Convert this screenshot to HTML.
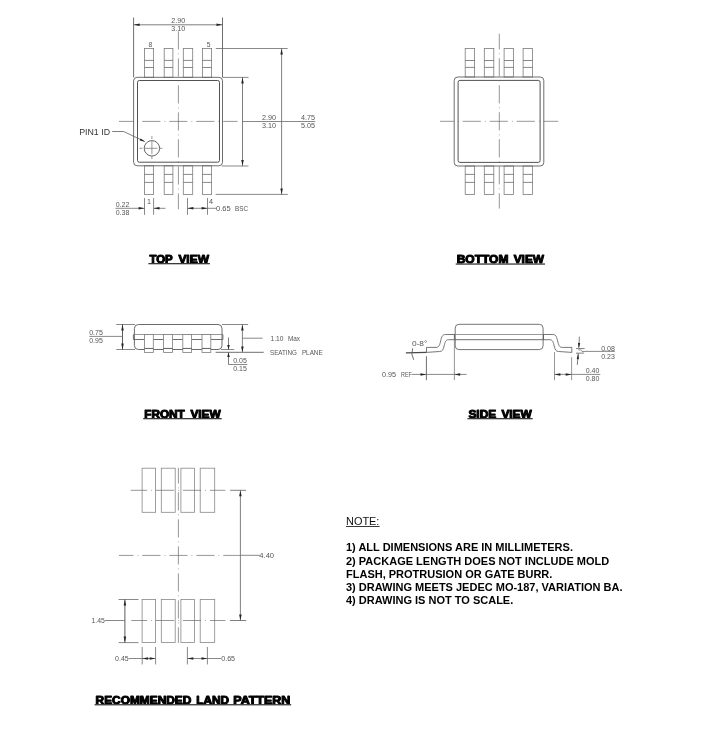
<!DOCTYPE html>
<html lang="en">
<head>
<meta charset="utf-8">
<title>MSOP-8 Package Outline</title>
<style>
html, body { margin: 0; padding: 0; background: #fff; }
body { width: 702px; height: 737px; overflow: hidden; font-family: "Liberation Sans", sans-serif; }
svg { display: block; will-change: transform; transform: translateZ(0); }
svg text { font-family: "Liberation Sans", sans-serif; white-space: pre; }
</style>
</head>
<body>
<svg width="702" height="737" viewBox="0 0 702 737">
<rect x="0" y="0" width="702" height="737" fill="#fff"/>
<rect x="144.5" y="48.5" width="9.1" height="28.8" rx="0" ry="0" fill="none" stroke="#7c7c7c" stroke-width="0.8"/>
<line x1="144.5" y1="60.4" x2="153.6" y2="60.4" stroke="#6a6a6a" stroke-width="0.8" />
<line x1="144.5" y1="67.5" x2="153.6" y2="67.5" stroke="#6a6a6a" stroke-width="0.8" />
<rect x="164.2" y="48.5" width="8.7" height="28.8" rx="0" ry="0" fill="none" stroke="#7c7c7c" stroke-width="0.8"/>
<line x1="164.2" y1="60.4" x2="172.9" y2="60.4" stroke="#6a6a6a" stroke-width="0.8" />
<line x1="164.2" y1="67.5" x2="172.9" y2="67.5" stroke="#6a6a6a" stroke-width="0.8" />
<rect x="183.3" y="48.5" width="9.4" height="28.8" rx="0" ry="0" fill="none" stroke="#7c7c7c" stroke-width="0.8"/>
<line x1="183.3" y1="60.4" x2="192.7" y2="60.4" stroke="#6a6a6a" stroke-width="0.8" />
<line x1="183.3" y1="67.5" x2="192.7" y2="67.5" stroke="#6a6a6a" stroke-width="0.8" />
<rect x="202.5" y="48.5" width="9.1" height="28.8" rx="0" ry="0" fill="none" stroke="#7c7c7c" stroke-width="0.8"/>
<line x1="202.5" y1="60.4" x2="211.6" y2="60.4" stroke="#6a6a6a" stroke-width="0.8" />
<line x1="202.5" y1="67.5" x2="211.6" y2="67.5" stroke="#6a6a6a" stroke-width="0.8" />
<rect x="144.5" y="165.8" width="9.1" height="28.6" rx="0" ry="0" fill="none" stroke="#7c7c7c" stroke-width="0.8"/>
<line x1="144.5" y1="174.4" x2="153.6" y2="174.4" stroke="#6a6a6a" stroke-width="0.8" />
<line x1="144.5" y1="182.4" x2="153.6" y2="182.4" stroke="#6a6a6a" stroke-width="0.8" />
<rect x="164.2" y="165.8" width="8.7" height="28.6" rx="0" ry="0" fill="none" stroke="#7c7c7c" stroke-width="0.8"/>
<line x1="164.2" y1="174.4" x2="172.9" y2="174.4" stroke="#6a6a6a" stroke-width="0.8" />
<line x1="164.2" y1="182.4" x2="172.9" y2="182.4" stroke="#6a6a6a" stroke-width="0.8" />
<rect x="183.3" y="165.8" width="9.4" height="28.6" rx="0" ry="0" fill="none" stroke="#7c7c7c" stroke-width="0.8"/>
<line x1="183.3" y1="174.4" x2="192.7" y2="174.4" stroke="#6a6a6a" stroke-width="0.8" />
<line x1="183.3" y1="182.4" x2="192.7" y2="182.4" stroke="#6a6a6a" stroke-width="0.8" />
<rect x="202.5" y="165.8" width="9.1" height="28.6" rx="0" ry="0" fill="none" stroke="#7c7c7c" stroke-width="0.8"/>
<line x1="202.5" y1="174.4" x2="211.6" y2="174.4" stroke="#6a6a6a" stroke-width="0.8" />
<line x1="202.5" y1="182.4" x2="211.6" y2="182.4" stroke="#6a6a6a" stroke-width="0.8" />
<rect x="133.6" y="77.3" width="88.9" height="88.5" rx="3.6" ry="3.6" fill="none" stroke="#5e5e5e" stroke-width="0.9"/>
<rect x="137.5" y="80.5" width="82.0" height="81.7" rx="1.8" ry="1.8" fill="none" stroke="#525252" stroke-width="1.0"/>
<line x1="119" y1="121.4" x2="237.6" y2="121.4" stroke="#6a6a6a" stroke-width="0.7" stroke-dasharray="18.2 4 0.8 4" stroke-dashoffset="3.80"/>
<line x1="178.4" y1="30" x2="178.4" y2="209.3" stroke="#6a6a6a" stroke-width="0.7" stroke-dasharray="18.2 4 0.8 4" stroke-dashoffset="25.70"/>
<line x1="133.6" y1="17.5" x2="133.6" y2="77.3" stroke="#5e5e5e" stroke-width="0.9" />
<line x1="222.5" y1="17.5" x2="222.5" y2="77.3" stroke="#5e5e5e" stroke-width="0.9" />
<line x1="133.6" y1="24.8" x2="222.5" y2="24.8" stroke="#5e5e5e" stroke-width="0.8" />
<polygon points="133.80,24.80 139.60,23.55 139.60,26.05" fill="#222"/>
<polygon points="222.30,24.80 216.50,26.05 216.50,23.55" fill="#222"/>
<text x="178.2" y="20.9" font-size="7.2" text-anchor="middle" dominant-baseline="central" fill="#555">2.90</text>
<text x="178.2" y="28.9" font-size="7.2" text-anchor="middle" dominant-baseline="central" fill="#555">3.10</text>
<text x="150.4" y="44.4" font-size="6.7" text-anchor="middle" dominant-baseline="central" fill="#555">8</text>
<text x="208.6" y="44.4" font-size="6.7" text-anchor="middle" dominant-baseline="central" fill="#555">5</text>
<line x1="215.8" y1="48.5" x2="287.6" y2="48.5" stroke="#6a6a6a" stroke-width="0.8" />
<line x1="222.5" y1="77.4" x2="248.5" y2="77.4" stroke="#6a6a6a" stroke-width="0.8" />
<line x1="221.8" y1="166.0" x2="248.5" y2="166.0" stroke="#6a6a6a" stroke-width="0.8" />
<line x1="215.6" y1="194.4" x2="287.8" y2="194.4" stroke="#6a6a6a" stroke-width="0.8" />
<line x1="242.5" y1="77.4" x2="242.5" y2="166.0" stroke="#5e5e5e" stroke-width="0.8" />
<polygon points="242.50,77.60 243.75,83.40 241.25,83.40" fill="#222"/>
<polygon points="242.50,165.80 241.25,160.00 243.75,160.00" fill="#222"/>
<line x1="281.6" y1="48.5" x2="281.6" y2="194.4" stroke="#5e5e5e" stroke-width="0.8" />
<polygon points="281.60,48.70 282.85,54.50 280.35,54.50" fill="#222"/>
<polygon points="281.60,194.20 280.35,188.40 282.85,188.40" fill="#222"/>
<line x1="242.5" y1="121.5" x2="315.2" y2="121.5" stroke="#6a6a6a" stroke-width="0.8" />
<text x="268.9" y="117.6" font-size="7.2" text-anchor="middle" dominant-baseline="central" fill="#555">2.90</text>
<text x="268.9" y="125.6" font-size="7.2" text-anchor="middle" dominant-baseline="central" fill="#555">3.10</text>
<text x="308.0" y="117.6" font-size="7.2" text-anchor="middle" dominant-baseline="central" fill="#555">4.75</text>
<text x="308.0" y="125.6" font-size="7.2" text-anchor="middle" dominant-baseline="central" fill="#555">5.05</text>
<text x="79.2" y="134.9" font-size="9.1" fill="#333" textLength="30.8" lengthAdjust="spacingAndGlyphs">PIN1 ID</text>
<path d="M112.2 131.5 H123.7 L144.6 141.5" fill="none" stroke="#5e5e5e" stroke-width="0.8"/>
<polygon points="145.20,141.80 139.76,140.42 140.72,138.43" fill="#222"/>
<circle cx="151.9" cy="148.3" r="7.7" fill="none" stroke="#525252" stroke-width="0.9"/>
<line x1="139.4" y1="148.3" x2="164.4" y2="148.3" stroke="#6a6a6a" stroke-width="0.7" stroke-dasharray="3 2 13 2 3"/>
<line x1="151.9" y1="136.1" x2="151.9" y2="160.3" stroke="#6a6a6a" stroke-width="0.7" stroke-dasharray="3 2 13 2 3"/>
<line x1="144.5" y1="198.0" x2="144.5" y2="214.8" stroke="#6a6a6a" stroke-width="0.8" />
<line x1="153.6" y1="198.0" x2="153.6" y2="214.8" stroke="#6a6a6a" stroke-width="0.8" />
<line x1="115.4" y1="208.3" x2="144.5" y2="208.3" stroke="#6a6a6a" stroke-width="0.8" />
<line x1="153.6" y1="208.3" x2="165.5" y2="208.3" stroke="#6a6a6a" stroke-width="0.8" />
<polygon points="144.40,208.30 138.60,209.55 138.60,207.05" fill="#222"/>
<polygon points="153.70,208.30 159.50,207.05 159.50,209.55" fill="#222"/>
<text x="122.5" y="204.6" font-size="7.0" text-anchor="middle" dominant-baseline="central" fill="#555">0.22</text>
<text x="122.5" y="212.5" font-size="7.0" text-anchor="middle" dominant-baseline="central" fill="#555">0.38</text>
<text x="149.0" y="201.3" font-size="7.2" text-anchor="middle" dominant-baseline="central" fill="#555">1</text>
<line x1="187.5" y1="198.0" x2="187.5" y2="214.8" stroke="#6a6a6a" stroke-width="0.8" />
<line x1="207.5" y1="198.0" x2="207.5" y2="214.8" stroke="#6a6a6a" stroke-width="0.8" />
<line x1="187.5" y1="208.3" x2="216.5" y2="208.3" stroke="#6a6a6a" stroke-width="0.8" />
<polygon points="187.60,208.30 193.40,207.05 193.40,209.55" fill="#222"/>
<polygon points="207.40,208.30 201.60,209.55 201.60,207.05" fill="#222"/>
<text x="211.0" y="201.0" font-size="7.2" text-anchor="middle" dominant-baseline="central" fill="#555">4</text>
<text x="216.1" y="208.4" font-size="7.2" text-anchor="start" dominant-baseline="central" fill="#555" textLength="14.6" lengthAdjust="spacingAndGlyphs">0.65</text>
<text x="235.0" y="208.4" font-size="7.2" text-anchor="start" dominant-baseline="central" fill="#555" textLength="13.0" lengthAdjust="spacingAndGlyphs">BSC</text>
<text x="149.4" y="262.5" font-size="10.3" font-weight="bold" fill="#000" stroke="#000" stroke-width="0.95" stroke-linejoin="round" textLength="23.3" lengthAdjust="spacingAndGlyphs">TOP</text>
<text x="178.4" y="262.5" font-size="10.3" font-weight="bold" fill="#000" stroke="#000" stroke-width="0.95" stroke-linejoin="round" textLength="30.6" lengthAdjust="spacingAndGlyphs">VIEW</text>
<rect x="148.39999999999998" y="263.0" width="61.5" height="1.3" fill="#3a3a3a"/>
<rect x="465.2" y="48.5" width="9.4" height="28.5" rx="0" ry="0" fill="none" stroke="#7c7c7c" stroke-width="0.8"/>
<line x1="465.2" y1="60.5" x2="474.6" y2="60.5" stroke="#6a6a6a" stroke-width="0.8" />
<line x1="465.2" y1="67.4" x2="474.6" y2="67.4" stroke="#6a6a6a" stroke-width="0.8" />
<rect x="484.3" y="48.5" width="9.5" height="28.5" rx="0" ry="0" fill="none" stroke="#7c7c7c" stroke-width="0.8"/>
<line x1="484.3" y1="60.5" x2="493.8" y2="60.5" stroke="#6a6a6a" stroke-width="0.8" />
<line x1="484.3" y1="67.4" x2="493.8" y2="67.4" stroke="#6a6a6a" stroke-width="0.8" />
<rect x="504.1" y="48.5" width="9.5" height="28.5" rx="0" ry="0" fill="none" stroke="#7c7c7c" stroke-width="0.8"/>
<line x1="504.1" y1="60.5" x2="513.6" y2="60.5" stroke="#6a6a6a" stroke-width="0.8" />
<line x1="504.1" y1="67.4" x2="513.6" y2="67.4" stroke="#6a6a6a" stroke-width="0.8" />
<rect x="523.1" y="48.5" width="9.5" height="28.5" rx="0" ry="0" fill="none" stroke="#7c7c7c" stroke-width="0.8"/>
<line x1="523.1" y1="60.5" x2="532.6" y2="60.5" stroke="#6a6a6a" stroke-width="0.8" />
<line x1="523.1" y1="67.4" x2="532.6" y2="67.4" stroke="#6a6a6a" stroke-width="0.8" />
<rect x="465.2" y="166.0" width="9.4" height="28.5" rx="0" ry="0" fill="none" stroke="#7c7c7c" stroke-width="0.8"/>
<line x1="465.2" y1="174.4" x2="474.6" y2="174.4" stroke="#6a6a6a" stroke-width="0.8" />
<line x1="465.2" y1="182.4" x2="474.6" y2="182.4" stroke="#6a6a6a" stroke-width="0.8" />
<rect x="484.3" y="166.0" width="9.5" height="28.5" rx="0" ry="0" fill="none" stroke="#7c7c7c" stroke-width="0.8"/>
<line x1="484.3" y1="174.4" x2="493.8" y2="174.4" stroke="#6a6a6a" stroke-width="0.8" />
<line x1="484.3" y1="182.4" x2="493.8" y2="182.4" stroke="#6a6a6a" stroke-width="0.8" />
<rect x="504.1" y="166.0" width="9.5" height="28.5" rx="0" ry="0" fill="none" stroke="#7c7c7c" stroke-width="0.8"/>
<line x1="504.1" y1="174.4" x2="513.6" y2="174.4" stroke="#6a6a6a" stroke-width="0.8" />
<line x1="504.1" y1="182.4" x2="513.6" y2="182.4" stroke="#6a6a6a" stroke-width="0.8" />
<rect x="523.1" y="166.0" width="9.5" height="28.5" rx="0" ry="0" fill="none" stroke="#7c7c7c" stroke-width="0.8"/>
<line x1="523.1" y1="174.4" x2="532.6" y2="174.4" stroke="#6a6a6a" stroke-width="0.8" />
<line x1="523.1" y1="182.4" x2="532.6" y2="182.4" stroke="#6a6a6a" stroke-width="0.8" />
<rect x="454.2" y="77.0" width="89.6" height="89.0" rx="3.6" ry="3.6" fill="none" stroke="#5e5e5e" stroke-width="0.9"/>
<rect x="458.1" y="80.4" width="82.0" height="82.0" rx="1.8" ry="1.8" fill="none" stroke="#525252" stroke-width="1.0"/>
<line x1="440.0" y1="121.3" x2="558.3" y2="121.3" stroke="#6a6a6a" stroke-width="0.7" stroke-dasharray="18.2 4 0.8 4" stroke-dashoffset="4.30"/>
<line x1="499.3" y1="33.7" x2="499.3" y2="208.6" stroke="#6a6a6a" stroke-width="0.7" stroke-dasharray="18.2 4 0.8 4" stroke-dashoffset="2.50"/>
<text x="456.7" y="262.5" font-size="10.3" font-weight="bold" fill="#000" stroke="#000" stroke-width="0.95" stroke-linejoin="round" textLength="51.7" lengthAdjust="spacingAndGlyphs">BOTTOM</text>
<text x="513.7" y="262.5" font-size="10.3" font-weight="bold" fill="#000" stroke="#000" stroke-width="0.95" stroke-linejoin="round" textLength="30.4" lengthAdjust="spacingAndGlyphs">VIEW</text>
<rect x="455.7" y="263.4" width="89.3" height="1.3" fill="#3a3a3a"/>
<path d="M138.4 324.5 H218 A4 4 0 0 1 222 328.5 V345.5 A4 4 0 0 1 218 349.5 H138.4 A4 4 0 0 1 134.4 345.5 V328.5 A4 4 0 0 1 138.4 324.5 Z" fill="none" stroke="#5a5a5a" stroke-width="0.9"/>
<line x1="133.4" y1="334.5" x2="222.9" y2="334.5" stroke="#7c7c7c" stroke-width="0.8" />
<line x1="133.4" y1="334.5" x2="133.4" y2="339.5" stroke="#5e5e5e" stroke-width="0.9" />
<line x1="222.9" y1="334.5" x2="222.9" y2="339.5" stroke="#5e5e5e" stroke-width="0.9" />
<line x1="133.4" y1="339.5" x2="144.5" y2="339.5" stroke="#5e5e5e" stroke-width="0.9" />
<line x1="153.3" y1="339.5" x2="163.6" y2="339.5" stroke="#5e5e5e" stroke-width="0.9" />
<line x1="172.4" y1="339.5" x2="182.8" y2="339.5" stroke="#5e5e5e" stroke-width="0.9" />
<line x1="191.6" y1="339.5" x2="202.0" y2="339.5" stroke="#5e5e5e" stroke-width="0.9" />
<line x1="210.8" y1="339.5" x2="222.9" y2="339.5" stroke="#5e5e5e" stroke-width="0.9" />
<rect x="144.5" y="334.5" width="8.8" height="17.9" fill="#fff" stroke="#7c7c7c" stroke-width="0.8"/>
<line x1="144.5" y1="348.45" x2="153.3" y2="348.45" stroke="#505050" stroke-width="0.9" />
<rect x="163.6" y="334.5" width="8.8" height="17.9" fill="#fff" stroke="#7c7c7c" stroke-width="0.8"/>
<line x1="163.6" y1="348.45" x2="172.4" y2="348.45" stroke="#505050" stroke-width="0.9" />
<rect x="182.8" y="334.5" width="8.8" height="17.9" fill="#fff" stroke="#7c7c7c" stroke-width="0.8"/>
<line x1="182.8" y1="348.45" x2="191.6" y2="348.45" stroke="#505050" stroke-width="0.9" />
<rect x="202.0" y="334.5" width="8.8" height="17.9" fill="#fff" stroke="#7c7c7c" stroke-width="0.8"/>
<line x1="202.0" y1="348.45" x2="210.8" y2="348.45" stroke="#505050" stroke-width="0.9" />
<line x1="116.3" y1="324.5" x2="135.0" y2="324.5" stroke="#6a6a6a" stroke-width="0.8" />
<line x1="116.3" y1="349.5" x2="135.0" y2="349.5" stroke="#6a6a6a" stroke-width="0.8" />
<line x1="122.5" y1="324.5" x2="122.5" y2="349.5" stroke="#484848" stroke-width="0.9" />
<polygon points="122.50,324.60 123.75,330.40 121.25,330.40" fill="#222"/>
<polygon points="122.50,349.40 121.25,343.60 123.75,343.60" fill="#222"/>
<line x1="89.3" y1="336.4" x2="122.5" y2="336.4" stroke="#6a6a6a" stroke-width="0.8" />
<text x="96.0" y="332.9" font-size="7.0" text-anchor="middle" dominant-baseline="central" fill="#555">0.75</text>
<text x="96.0" y="340.6" font-size="7.0" text-anchor="middle" dominant-baseline="central" fill="#555">0.95</text>
<line x1="222.0" y1="324.5" x2="248.1" y2="324.5" stroke="#6a6a6a" stroke-width="0.8" />
<line x1="242.4" y1="324.5" x2="242.4" y2="352.4" stroke="#5e5e5e" stroke-width="0.8" />
<polygon points="242.40,324.70 243.65,330.50 241.15,330.50" fill="#222"/>
<polygon points="242.40,352.20 241.15,346.40 243.65,346.40" fill="#222"/>
<line x1="215.6" y1="352.3" x2="263.7" y2="352.3" stroke="#5e5e5e" stroke-width="0.9" />
<line x1="221.0" y1="349.5" x2="234.2" y2="349.5" stroke="#6a6a6a" stroke-width="0.8" />
<line x1="228.5" y1="337.4" x2="228.5" y2="349.5" stroke="#5e5e5e" stroke-width="0.8" />
<line x1="228.5" y1="352.3" x2="228.5" y2="364.5" stroke="#5e5e5e" stroke-width="0.8" />
<polygon points="228.50,349.40 227.25,344.90 229.75,344.90" fill="#222"/>
<polygon points="228.50,352.40 229.75,356.90 227.25,356.90" fill="#222"/>
<line x1="228.5" y1="364.5" x2="247.3" y2="364.5" stroke="#6a6a6a" stroke-width="0.8" />
<text x="240.0" y="360.7" font-size="7.0" text-anchor="middle" dominant-baseline="central" fill="#555">0.05</text>
<text x="240.0" y="368.2" font-size="7.0" text-anchor="middle" dominant-baseline="central" fill="#555">0.15</text>
<line x1="242.4" y1="338.2" x2="262.6" y2="338.2" stroke="#6a6a6a" stroke-width="0.8" />
<text x="270.5" y="338.3" font-size="7.2" text-anchor="start" dominant-baseline="central" fill="#555" textLength="12.9" lengthAdjust="spacingAndGlyphs">1.10</text>
<text x="287.9" y="338.3" font-size="7.2" text-anchor="start" dominant-baseline="central" fill="#555" textLength="12.2" lengthAdjust="spacingAndGlyphs">Max</text>
<text x="270.0" y="352.4" font-size="7.4" text-anchor="start" dominant-baseline="central" fill="#555" textLength="27.0" lengthAdjust="spacingAndGlyphs">SEATING</text>
<text x="301.9" y="352.4" font-size="7.4" text-anchor="start" dominant-baseline="central" fill="#555" textLength="20.8" lengthAdjust="spacingAndGlyphs">PLANE</text>
<text x="144.2" y="417.5" font-size="10.3" font-weight="bold" fill="#000" stroke="#000" stroke-width="0.95" stroke-linejoin="round" textLength="40.6" lengthAdjust="spacingAndGlyphs">FRONT</text>
<text x="190.4" y="417.5" font-size="10.3" font-weight="bold" fill="#000" stroke="#000" stroke-width="0.95" stroke-linejoin="round" textLength="30.4" lengthAdjust="spacingAndGlyphs">VIEW</text>
<rect x="143.2" y="418.0" width="78.5" height="1.3" fill="#3a3a3a"/>
<rect x="455.2" y="324.3" width="87.9" height="25.3" rx="3.8" ry="3.8" fill="none" stroke="#5c5c5c" stroke-width="0.85"/>
<line x1="454.4" y1="334.5" x2="543.5" y2="334.5" stroke="#808080" stroke-width="0.8" />
<line x1="454.4" y1="339.7" x2="543.5" y2="339.7" stroke="#5e5e5e" stroke-width="0.9" />
<line x1="543.5" y1="334.5" x2="543.5" y2="339.7" stroke="#555" stroke-width="0.9" />
<line x1="454.4" y1="334.5" x2="454.4" y2="339.7" stroke="#555" stroke-width="0.9" />
<path d="M455.2 334.5 H445.5 C442.1 334.5 441.5 337.5 440.7 340.9 C439.7 344.8 439.1 347.4 436.1 347.4 H426.5 V352.5" fill="none" stroke="#5e5e5e" stroke-width="0.85"/>
<path d="M455.2 339.7 H448.5 C445.5 339.7 444.9 342.6 444.1 346.1 C443.2 349.6 442.4 351.5 439.7 351.5 L426.5 352.4" fill="none" stroke="#5e5e5e" stroke-width="0.85"/>
<path d="M543.1 334.5 H552.8 C556.2 334.5 556.8 337.5 557.6 340.9 C558.6 344.8 559.2 347.4 562.2 347.4 H571.8 V352.5" fill="none" stroke="#5e5e5e" stroke-width="0.85"/>
<path d="M543.1 339.7 H549.8 C552.8 339.7 553.4 342.6 554.2 346.1 C555.1 349.6 555.9 351.5 558.6 351.5 L571.8 352.4" fill="none" stroke="#5e5e5e" stroke-width="0.85"/>
<line x1="405.9" y1="352.9" x2="426.4" y2="352.4" stroke="#484848" stroke-width="1.2" />
<path d="M412.6 348.3 Q410.6 354.5 413.7 359.8" fill="none" stroke="#5e5e5e" stroke-width="0.9"/>
<text x="411.9" y="343.0" font-size="6.8" text-anchor="start" dominant-baseline="central" fill="#555" textLength="15.4" lengthAdjust="spacingAndGlyphs">0-8°</text>
<line x1="426.4" y1="356.2" x2="426.4" y2="380.2" stroke="#5e5e5e" stroke-width="0.9" />
<line x1="454.4" y1="339.7" x2="454.4" y2="380.2" stroke="#7c7c7c" stroke-width="0.8" />
<line x1="411.9" y1="374.4" x2="466.6" y2="374.4" stroke="#6a6a6a" stroke-width="0.8" />
<polygon points="426.30,374.40 420.50,375.65 420.50,373.15" fill="#222"/>
<polygon points="454.40,374.40 460.20,373.15 460.20,375.65" fill="#222"/>
<text x="382.0" y="374.5" font-size="7.2" text-anchor="start" dominant-baseline="central" fill="#555" textLength="14.0" lengthAdjust="spacingAndGlyphs">0.95</text>
<text x="401.1" y="374.5" font-size="7.2" text-anchor="start" dominant-baseline="central" fill="#555" textLength="10.8" lengthAdjust="spacingAndGlyphs">REF</text>
<line x1="554.5" y1="352.0" x2="554.5" y2="380.2" stroke="#7c7c7c" stroke-width="0.8" />
<line x1="571.6" y1="357.2" x2="571.6" y2="380.2" stroke="#7c7c7c" stroke-width="0.8" />
<line x1="554.5" y1="374.4" x2="600.3" y2="374.4" stroke="#6a6a6a" stroke-width="0.8" />
<polygon points="554.60,374.40 560.40,373.15 560.40,375.65" fill="#222"/>
<polygon points="571.50,374.40 565.70,375.65 565.70,373.15" fill="#222"/>
<text x="592.6" y="370.7" font-size="7.0" text-anchor="middle" dominant-baseline="central" fill="#555">0.40</text>
<text x="592.6" y="378.4" font-size="7.0" text-anchor="middle" dominant-baseline="central" fill="#555">0.80</text>
<line x1="579.4" y1="336.7" x2="578.9" y2="347.6" stroke="#5e5e5e" stroke-width="0.8" />
<line x1="578.2" y1="353.4" x2="577.3" y2="364.9" stroke="#5e5e5e" stroke-width="0.8" />
<polygon points="578.80,348.20 577.96,342.95 580.16,343.06" fill="#222"/>
<polygon points="578.20,353.50 578.91,359.16 576.71,359.01" fill="#222"/>
<line x1="576.0" y1="348.6" x2="584.6" y2="348.5" stroke="#5e5e5e" stroke-width="0.8" />
<line x1="576.0" y1="353.2" x2="584.1" y2="353.1" stroke="#5e5e5e" stroke-width="0.8" />
<path d="M578.4 349.9 H580.6 Q581.6 350.2 582.0 351.4 H614.9" fill="none" stroke="#6a6a6a" stroke-width="0.8"/>
<text x="608.0" y="348.4" font-size="7.0" text-anchor="middle" dominant-baseline="central" fill="#555">0.08</text>
<text x="608.0" y="356.3" font-size="7.0" text-anchor="middle" dominant-baseline="central" fill="#555">0.23</text>
<text x="468.4" y="417.5" font-size="10.3" font-weight="bold" fill="#000" stroke="#000" stroke-width="0.95" stroke-linejoin="round" textLength="27.9" lengthAdjust="spacingAndGlyphs">SIDE</text>
<text x="501.4" y="417.5" font-size="10.3" font-weight="bold" fill="#000" stroke="#000" stroke-width="0.95" stroke-linejoin="round" textLength="30.4" lengthAdjust="spacingAndGlyphs">VIEW</text>
<rect x="467.4" y="418.0" width="65.3" height="1.3" fill="#3a3a3a"/>
<rect x="142.1" y="468.2" width="13.5" height="44.1" rx="0" ry="0" fill="none" stroke="#888" stroke-width="0.8"/>
<rect x="142.1" y="599.5" width="13.5" height="43.1" rx="0" ry="0" fill="none" stroke="#888" stroke-width="0.8"/>
<rect x="161.3" y="468.2" width="13.9" height="44.1" rx="0" ry="0" fill="none" stroke="#888" stroke-width="0.8"/>
<rect x="161.3" y="599.5" width="13.9" height="43.1" rx="0" ry="0" fill="none" stroke="#888" stroke-width="0.8"/>
<rect x="180.9" y="468.2" width="13.5" height="44.1" rx="0" ry="0" fill="none" stroke="#888" stroke-width="0.8"/>
<rect x="180.9" y="599.5" width="13.5" height="43.1" rx="0" ry="0" fill="none" stroke="#888" stroke-width="0.8"/>
<rect x="200.2" y="468.2" width="14.5" height="44.1" rx="0" ry="0" fill="none" stroke="#888" stroke-width="0.8"/>
<rect x="200.2" y="599.5" width="14.5" height="43.1" rx="0" ry="0" fill="none" stroke="#888" stroke-width="0.8"/>
<line x1="130.7" y1="490.3" x2="225.4" y2="490.3" stroke="#6a6a6a" stroke-width="0.7" stroke-dasharray="18.2 4 0.8 4" stroke-dashoffset="1.80"/>
<line x1="131.3" y1="620.5" x2="225.4" y2="620.5" stroke="#6a6a6a" stroke-width="0.7" stroke-dasharray="18.2 4 0.8 4" stroke-dashoffset="2.40"/>
<line x1="119.0" y1="555.4" x2="240.4" y2="555.4" stroke="#6a6a6a" stroke-width="0.7" stroke-dasharray="18.2 4 0.8 4" stroke-dashoffset="3.70"/>
<line x1="178.4" y1="467.8" x2="178.4" y2="643.0" stroke="#6a6a6a" stroke-width="0.7" stroke-dasharray="18.2 4 0.8 4" stroke-dashoffset="2.50"/>
<line x1="230.1" y1="490.3" x2="246.1" y2="490.3" stroke="#5e5e5e" stroke-width="0.8" />
<line x1="230.1" y1="620.5" x2="246.2" y2="620.5" stroke="#5e5e5e" stroke-width="0.8" />
<line x1="240.4" y1="490.3" x2="240.4" y2="620.5" stroke="#5e5e5e" stroke-width="0.8" />
<polygon points="240.40,490.50 241.65,496.30 239.15,496.30" fill="#222"/>
<polygon points="240.40,620.30 239.15,614.50 241.65,614.50" fill="#222"/>
<line x1="240.4" y1="555.3" x2="259.8" y2="555.3" stroke="#6a6a6a" stroke-width="0.8" />
<text x="259.3" y="555.6" font-size="7.0" text-anchor="start" dominant-baseline="central" fill="#555" textLength="14.8" lengthAdjust="spacingAndGlyphs">4.40</text>
<line x1="118.5" y1="599.5" x2="138.5" y2="599.5" stroke="#6a6a6a" stroke-width="0.8" />
<line x1="118.5" y1="642.6" x2="138.5" y2="642.6" stroke="#6a6a6a" stroke-width="0.8" />
<line x1="124.9" y1="599.5" x2="124.9" y2="642.6" stroke="#484848" stroke-width="0.9" />
<polygon points="124.90,599.70 126.15,605.50 123.65,605.50" fill="#222"/>
<polygon points="124.90,642.40 123.65,636.60 126.15,636.60" fill="#222"/>
<line x1="104.9" y1="620.5" x2="124.9" y2="620.5" stroke="#6a6a6a" stroke-width="0.8" />
<text x="91.5" y="620.6" font-size="7.0" text-anchor="start" dominant-baseline="central" fill="#555" textLength="13.4" lengthAdjust="spacingAndGlyphs">1.45</text>
<line x1="142.2" y1="647.0" x2="142.2" y2="664.4" stroke="#6a6a6a" stroke-width="0.8" />
<line x1="155.6" y1="647.0" x2="155.6" y2="664.4" stroke="#6a6a6a" stroke-width="0.8" />
<line x1="128.7" y1="658.5" x2="155.6" y2="658.5" stroke="#6a6a6a" stroke-width="0.8" />
<polygon points="142.30,658.50 148.10,657.25 148.10,659.75" fill="#222"/>
<polygon points="155.50,658.50 149.70,659.75 149.70,657.25" fill="#222"/>
<text x="115.1" y="658.6" font-size="7.0" text-anchor="start" dominant-baseline="central" fill="#555" textLength="13.6" lengthAdjust="spacingAndGlyphs">0.45</text>
<line x1="187.4" y1="647.0" x2="187.4" y2="664.4" stroke="#6a6a6a" stroke-width="0.8" />
<line x1="207.4" y1="647.0" x2="207.4" y2="664.4" stroke="#6a6a6a" stroke-width="0.8" />
<line x1="187.4" y1="658.5" x2="221.0" y2="658.5" stroke="#6a6a6a" stroke-width="0.8" />
<polygon points="187.50,658.50 193.30,657.25 193.30,659.75" fill="#222"/>
<polygon points="207.30,658.50 201.50,659.75 201.50,657.25" fill="#222"/>
<text x="221.2" y="658.6" font-size="7.0" text-anchor="start" dominant-baseline="central" fill="#555" textLength="13.9" lengthAdjust="spacingAndGlyphs">0.65</text>
<text x="95.6" y="703.5" font-size="10.3" font-weight="bold" fill="#000" stroke="#000" stroke-width="0.95" stroke-linejoin="round" textLength="95.8" lengthAdjust="spacingAndGlyphs">RECOMMENDED</text>
<text x="196.3" y="703.5" font-size="10.3" font-weight="bold" fill="#000" stroke="#000" stroke-width="0.95" stroke-linejoin="round" textLength="32.8" lengthAdjust="spacingAndGlyphs">LAND</text>
<text x="233.3" y="703.5" font-size="10.3" font-weight="bold" fill="#000" stroke="#000" stroke-width="0.95" stroke-linejoin="round" textLength="57.0" lengthAdjust="spacingAndGlyphs">PATTERN</text>
<rect x="94.60000000000001" y="704.1" width="196.6" height="1.3" fill="#3a3a3a"/>
<text x="346.0" y="525.3" font-size="11" fill="#111" textLength="33.4" lengthAdjust="spacingAndGlyphs">NOTE:</text>
<rect x="346.0" y="526.0" width="33.6" height="0.9" fill="#222"/>
<text x="346.0" y="551.40" font-size="11" font-weight="bold" fill="#000">1) ALL DIMENSIONS ARE IN MILLIMETERS.</text>
<text x="346.0" y="564.53" font-size="11" font-weight="bold" fill="#000">2) PACKAGE LENGTH DOES NOT INCLUDE MOLD</text>
<text x="346.0" y="577.66" font-size="11" font-weight="bold" fill="#000">FLASH, PROTRUSION OR GATE BURR.</text>
<text x="346.0" y="590.79" font-size="11" font-weight="bold" fill="#000">3) DRAWING MEETS JEDEC MO-187, VARIATION BA.</text>
<text x="346.0" y="603.92" font-size="11" font-weight="bold" fill="#000">4) DRAWING IS NOT TO SCALE.</text>
</svg>
</body>
</html>
